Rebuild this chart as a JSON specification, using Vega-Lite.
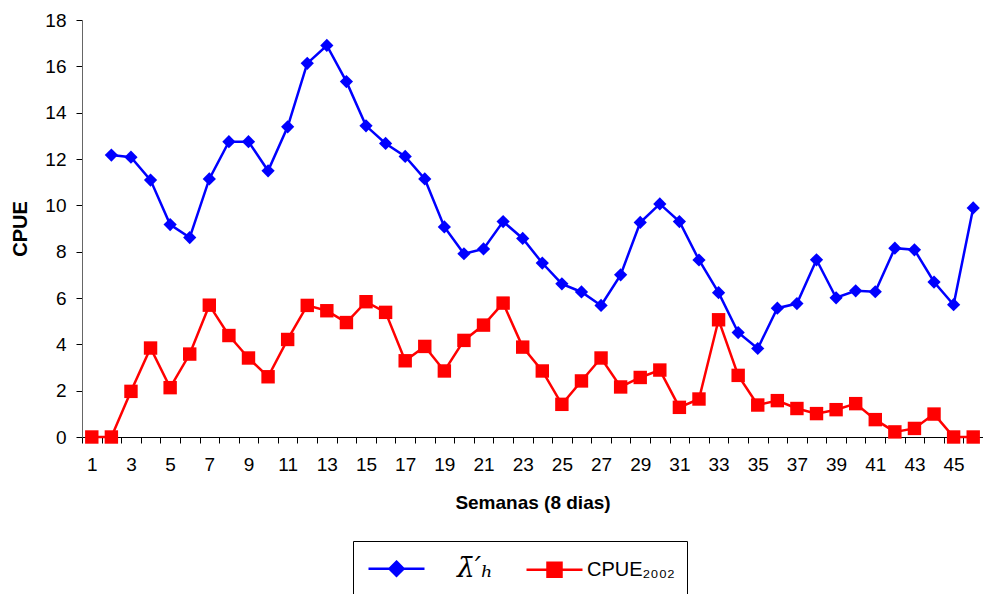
{
  "$schema": "https://vega.github.io/schema/vega-lite/v6.json",
  "width": 901,
  "height": 417,
  "autosize": {"type": "none"},
  "padding": {"left": 82, "top": 20, "right": 0, "bottom": 157},
  "background": "white",
  "config": {
    "view": {"stroke": null},
    "font": "Liberation Sans"
  },
  "data": {
    "values": [
      {"semana": 2, "serie": "lambda", "cpue": 12.17},
      {"semana": 3, "serie": "lambda", "cpue": 12.08},
      {"semana": 4, "serie": "lambda", "cpue": 11.09},
      {"semana": 5, "serie": "lambda", "cpue": 9.17},
      {"semana": 6, "serie": "lambda", "cpue": 8.61},
      {"semana": 7, "serie": "lambda", "cpue": 11.14},
      {"semana": 8, "serie": "lambda", "cpue": 12.75},
      {"semana": 9, "serie": "lambda", "cpue": 12.75},
      {"semana": 10, "serie": "lambda", "cpue": 11.49},
      {"semana": 11, "serie": "lambda", "cpue": 13.39},
      {"semana": 12, "serie": "lambda", "cpue": 16.13},
      {"semana": 13, "serie": "lambda", "cpue": 16.9},
      {"semana": 14, "serie": "lambda", "cpue": 15.34},
      {"semana": 15, "serie": "lambda", "cpue": 13.43},
      {"semana": 16, "serie": "lambda", "cpue": 12.67},
      {"semana": 17, "serie": "lambda", "cpue": 12.11},
      {"semana": 18, "serie": "lambda", "cpue": 11.14},
      {"semana": 19, "serie": "lambda", "cpue": 9.07},
      {"semana": 20, "serie": "lambda", "cpue": 7.91},
      {"semana": 21, "serie": "lambda", "cpue": 8.12},
      {"semana": 22, "serie": "lambda", "cpue": 9.3},
      {"semana": 23, "serie": "lambda", "cpue": 8.57},
      {"semana": 24, "serie": "lambda", "cpue": 7.51},
      {"semana": 25, "serie": "lambda", "cpue": 6.61},
      {"semana": 26, "serie": "lambda", "cpue": 6.26},
      {"semana": 27, "serie": "lambda", "cpue": 5.68},
      {"semana": 28, "serie": "lambda", "cpue": 7.0},
      {"semana": 29, "serie": "lambda", "cpue": 9.26},
      {"semana": 30, "serie": "lambda", "cpue": 10.06},
      {"semana": 31, "serie": "lambda", "cpue": 9.3},
      {"semana": 32, "serie": "lambda", "cpue": 7.64},
      {"semana": 33, "serie": "lambda", "cpue": 6.23},
      {"semana": 34, "serie": "lambda", "cpue": 4.51},
      {"semana": 35, "serie": "lambda", "cpue": 3.82},
      {"semana": 36, "serie": "lambda", "cpue": 5.56},
      {"semana": 37, "serie": "lambda", "cpue": 5.76},
      {"semana": 38, "serie": "lambda", "cpue": 7.65},
      {"semana": 39, "serie": "lambda", "cpue": 6.01},
      {"semana": 40, "serie": "lambda", "cpue": 6.31},
      {"semana": 41, "serie": "lambda", "cpue": 6.27},
      {"semana": 42, "serie": "lambda", "cpue": 8.15},
      {"semana": 43, "serie": "lambda", "cpue": 8.08},
      {"semana": 44, "serie": "lambda", "cpue": 6.69},
      {"semana": 45, "serie": "lambda", "cpue": 5.71},
      {"semana": 46, "serie": "lambda", "cpue": 9.89},
      {"semana": 1, "serie": "cpue2002", "cpue": 0},
      {"semana": 2, "serie": "cpue2002", "cpue": 0},
      {"semana": 3, "serie": "cpue2002", "cpue": 1.97},
      {"semana": 4, "serie": "cpue2002", "cpue": 3.84},
      {"semana": 5, "serie": "cpue2002", "cpue": 2.13},
      {"semana": 6, "serie": "cpue2002", "cpue": 3.58},
      {"semana": 7, "serie": "cpue2002", "cpue": 5.69},
      {"semana": 8, "serie": "cpue2002", "cpue": 4.38},
      {"semana": 9, "serie": "cpue2002", "cpue": 3.41},
      {"semana": 10, "serie": "cpue2002", "cpue": 2.6},
      {"semana": 11, "serie": "cpue2002", "cpue": 4.21},
      {"semana": 12, "serie": "cpue2002", "cpue": 5.68},
      {"semana": 13, "serie": "cpue2002", "cpue": 5.45},
      {"semana": 14, "serie": "cpue2002", "cpue": 4.94},
      {"semana": 15, "serie": "cpue2002", "cpue": 5.84},
      {"semana": 16, "serie": "cpue2002", "cpue": 5.38},
      {"semana": 17, "serie": "cpue2002", "cpue": 3.29},
      {"semana": 18, "serie": "cpue2002", "cpue": 3.91},
      {"semana": 19, "serie": "cpue2002", "cpue": 2.85},
      {"semana": 20, "serie": "cpue2002", "cpue": 4.17},
      {"semana": 21, "serie": "cpue2002", "cpue": 4.83},
      {"semana": 22, "serie": "cpue2002", "cpue": 5.78},
      {"semana": 23, "serie": "cpue2002", "cpue": 3.88},
      {"semana": 24, "serie": "cpue2002", "cpue": 2.85},
      {"semana": 25, "serie": "cpue2002", "cpue": 1.41},
      {"semana": 26, "serie": "cpue2002", "cpue": 2.42},
      {"semana": 27, "serie": "cpue2002", "cpue": 3.41},
      {"semana": 28, "serie": "cpue2002", "cpue": 2.16},
      {"semana": 29, "serie": "cpue2002", "cpue": 2.57},
      {"semana": 30, "serie": "cpue2002", "cpue": 2.89},
      {"semana": 31, "serie": "cpue2002", "cpue": 1.28},
      {"semana": 32, "serie": "cpue2002", "cpue": 1.64},
      {"semana": 33, "serie": "cpue2002", "cpue": 5.06},
      {"semana": 34, "serie": "cpue2002", "cpue": 2.66},
      {"semana": 35, "serie": "cpue2002", "cpue": 1.38},
      {"semana": 36, "serie": "cpue2002", "cpue": 1.57},
      {"semana": 37, "serie": "cpue2002", "cpue": 1.23},
      {"semana": 38, "serie": "cpue2002", "cpue": 1.01},
      {"semana": 39, "serie": "cpue2002", "cpue": 1.18},
      {"semana": 40, "serie": "cpue2002", "cpue": 1.44},
      {"semana": 41, "serie": "cpue2002", "cpue": 0.75},
      {"semana": 42, "serie": "cpue2002", "cpue": 0.22},
      {"semana": 43, "serie": "cpue2002", "cpue": 0.37},
      {"semana": 44, "serie": "cpue2002", "cpue": 0.99},
      {"semana": 45, "serie": "cpue2002", "cpue": 0},
      {"semana": 46, "serie": "cpue2002", "cpue": 0}
    ]
  },
  "encoding": {
    "x": {
      "field": "semana",
      "type": "ordinal",
      "scale": {"type": "band", "paddingInner": 0, "paddingOuter": 0},
      "axis": {
        "title": "Semanas (8 dias)",
        "titleFont": "Liberation Sans",
        "titleFontSize": 19,
        "titleFontWeight": "bold",
        "titleColor": "black",
        "titlePadding": 19,
        "labelAngle": 0,
        "labelFontSize": 19,
        "labelColor": "black",
        "labelPadding": 12,
        "labelExpr": "datum.value % 2 == 1 ? datum.label : ''",
        "tickBand": "extent",
        "tickSize": 6,
        "tickColor": "black",
        "domainColor": "black",
        "grid": false
      }
    },
    "y": {
      "field": "cpue",
      "type": "quantitative",
      "scale": {"domain": [0, 18], "nice": false},
      "axis": {
        "title": "CPUE",
        "titleFontSize": 20,
        "titleFontWeight": "bold",
        "titleColor": "black",
        "titlePadding": 14,
        "values": [0, 2, 4, 6, 8, 10, 12, 14, 16, 18],
        "labelFontSize": 19,
        "labelColor": "black",
        "labelPadding": 10,
        "tickSize": 6,
        "tickColor": "black",
        "domainColor": "#666666",
        "grid": false
      }
    }
  },
  "layer": [
    {
      "mark": {"type": "line", "strokeWidth": 2.5},
      "encoding": {
        "color": {
          "field": "serie",
          "type": "nominal",
          "scale": {"domain": ["lambda", "cpue2002"], "range": ["#0000ff", "#ff0000"]},
          "legend": {
            "orient": "none",
            "legendX": 271,
            "legendY": 521,
            "direction": "horizontal",
            "title": null,
            "strokeColor": "black",
            "fillColor": "white",
            "padding": 12,
            "symbolSize": 784,
            "symbolOffset": 16,
            "symbolStrokeWidth": 2.5,
            "labelFontSize": 20,
            "labelColor": "black",
            "labelOffset": 17,
            "columnPadding": 27,
            "labelExpr": "datum.value == 'lambda' ? '\u03bb\u0304\u2032\u2095' : 'CPUE\u2082\u2080\u2080\u2082'",
            "encode": {
              "symbols": {
                "update": {
                  "shape": {"signal": "datum.index == 0 ? 'M-2,0H2M0,-0.5L0.5,0L0,0.5L-0.5,0Z' : 'M-2,0H2M-0.5,-0.5H0.5V0.5H-0.5Z'"},
                  "fill": {"scale": "color", "field": "value"},
                  "stroke": {"scale": "color", "field": "value"},
                  "fillOpacity": {"value": 1},
                  "opacity": {"value": 1}
                }
              },
              "labels": {
                "update": {
                  "font": {"signal": "datum.index == 0 ? 'DejaVu Serif' : 'Liberation Sans'"},
                  "fontStyle": {"signal": "datum.index == 0 ? 'italic' : 'normal'"},
                  "fontSize": {"signal": "datum.index == 0 ? 28 : 20"},
                  "dx": {"signal": "datum.index == 0 ? 28 : 0"}
                }
              }
            }
          }
        }
      }
    },
    {
      "transform": [{"filter": "datum.serie == 'lambda'"}],
      "mark": {"type": "point", "filled": true, "opacity": 1, "shape": "diamond", "size": 175},
      "encoding": {
        "color": {"field": "serie", "type": "nominal", "legend": null}
      }
    },
    {
      "transform": [{"filter": "datum.serie == 'cpue2002'"}],
      "mark": {"type": "point", "filled": true, "opacity": 1, "shape": "square", "size": 180},
      "encoding": {
        "color": {"field": "serie", "type": "nominal", "legend": null}
      }
    }
  ]
}
